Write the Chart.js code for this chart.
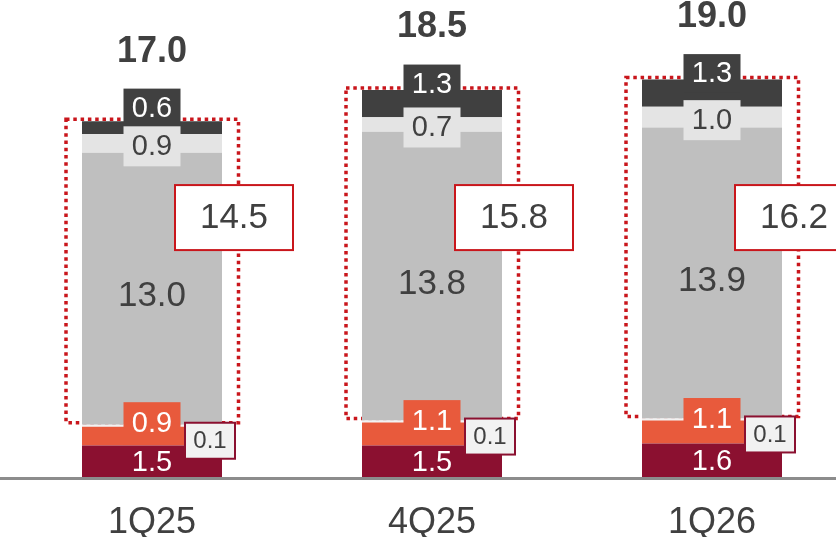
<!DOCTYPE html>
<html>
<head>
<meta charset="utf-8">
<script src="https://cdn.jsdelivr.net/npm/chart.js@4/dist/chart.umd.min.js"></script>
<style>
  html, body { margin: 0; padding: 0; background: #ffffff; overflow: hidden; width: 836px; height: 537px; }
  #wrap { position: relative; width: 860px; height: 537px; }
</style>
</head>
<body>
<div id="wrap"><canvas id="chart" width="860" height="537"></canvas></div>
<script>
// Quarter categories
const quarters = ['1Q25', '4Q25', '1Q26'];

// Stack components, listed from the bottom of each bar upwards
const baseValues   = [1.5, 1.5, 1.6];   // deep red base
const accentValues = [0.9, 1.1, 1.1];   // orange
const minorValues  = [0.1, 0.1, 0.1];   // thin sliver with boxed label
const coreValues   = [13.0, 13.8, 13.9]; // main grey block
const lightValues  = [0.9, 0.7, 1.0];   // pale grey
const topValues    = [0.6, 1.3, 1.3];   // charcoal cap

const FONT = '"Liberation Sans", Arial, Helvetica, sans-serif';
const TEXT = '#404040';
const RED_LINE = '#C9161C';
const C_BASE = '#8B1030', C_ACCENT = '#E85A3C', C_MINOR = '#F2F2F2',
      C_CORE = '#BFBFBF', C_LIGHT = '#E4E4E4', C_TOP = '#404040';

const seriesList = [baseValues, accentValues, minorValues, coreValues, lightValues, topValues];
const colorList = [C_BASE, C_ACCENT, C_MINOR, C_CORE, C_LIGHT, C_TOP];

const fmt = v => (Math.round(v * 10) / 10).toFixed(1);

// Level (in data units) where the bracket totals sit
const CALLOUT_LEVEL = 12.4;

function box(ctx, cx, cy, w, h, fill, stroke, lw) {
  ctx.fillStyle = fill;
  ctx.fillRect(cx - w / 2, cy - h / 2, w, h);
  if (stroke) {
    ctx.strokeStyle = stroke;
    ctx.lineWidth = lw;
    ctx.strokeRect(cx - w / 2, cy - h / 2, w, h);
  }
}
function text(ctx, str, x, y, size, color, bold) {
  ctx.font = (bold ? 'bold ' : '') + size + 'px ' + FONT;
  ctx.fillStyle = color;
  ctx.textAlign = 'center';
  ctx.textBaseline = 'middle';
  ctx.fillText(str, x, y);
}

const overlay = {
  id: 'overlay',
  beforeDatasetsDraw(chart) {
    // dotted bracket around the three upper grey components
    const ctx = chart.ctx;
    ctx.save();
    ctx.strokeStyle = RED_LINE;
    ctx.lineWidth = 3.5;
    ctx.setLineDash([3.5, 3.8]);
    quarters.forEach((q, i) => {
      const lower = chart.getDatasetMeta(3).data[i];
      const upper = chart.getDatasetMeta(5).data[i];
      const left = lower.x - lower.width / 2 - 16;
      const right = lower.x + lower.width / 2 + 16.5;
      const top = upper.y - 2;
      const bottom = lower.base - 2;
      ctx.strokeRect(left, top, right - left, bottom - top);
    });
    ctx.restore();
  },
  afterDatasetsDraw(chart) {
    const ctx = chart.ctx;
    const ys = chart.scales.y;
    ctx.save();

    // baseline across the full width
    const zero = ys.getPixelForValue(0);
    ctx.fillStyle = '#8C8C8C';
    ctx.fillRect(0, zero, chart.width, 3);

    quarters.forEach((q, i) => {
      const m = k => chart.getDatasetMeta(k).data[i];
      const mid = el => (el.y + el.base) / 2;
      const x = m(0).x;
      const halfW = m(0).width / 2;

      // charcoal cap label
      const topEl = m(5);
      const topLabelY = mid(topEl) - 20;
      box(ctx, x, topLabelY, 57, 38, C_TOP);
      text(ctx, fmt(topValues[i]), x, topLabelY + 1, 29, '#ffffff');

      // pale grey label
      const lightEl = m(4);
      const lightY = mid(lightEl) + 3;
      box(ctx, x, lightY, 57, 40, C_LIGHT);
      text(ctx, fmt(lightValues[i]), x, lightY + 1, 29, TEXT);

      // main grey label
      text(ctx, fmt(coreValues[i]), x, mid(m(3)) + 8, 35, TEXT);

      // orange label
      const accY = mid(m(1)) - 13;
      box(ctx, x, accY, 57, 42, C_ACCENT);
      text(ctx, fmt(accentValues[i]), x, accY + 1, 29, '#ffffff');

      // base label
      text(ctx, fmt(baseValues[i]), x, mid(m(0)) + 2, 29, '#ffffff');

      // boxed sliver label
      const minY = mid(m(2)) + 15;
      const minX = x + halfW - 37 + 25;
      box(ctx, minX, minY, 50, 36, C_MINOR, C_BASE, 2);
      text(ctx, fmt(minorValues[i]), minX, minY + 1, 24, TEXT);

      // bar total
      const total = seriesList.reduce((s, arr) => s + arr[i], 0);
      text(ctx, fmt(total), x, topLabelY - 56, 36, TEXT, true);

      // bracket total
      const bracket = coreValues[i] + lightValues[i] + topValues[i];
      const cy = ys.getPixelForValue(CALLOUT_LEVEL);
      const cx = x + halfW - 47 + 59;
      box(ctx, cx, cy, 118, 65, '#ffffff', RED_LINE, 2);
      text(ctx, fmt(bracket), cx, cy + 1, 35, TEXT);
    });
    ctx.restore();
  }
};

new Chart(document.getElementById('chart'), {
  type: 'bar',
  data: {
    labels: quarters,
    datasets: seriesList.map((arr, k) => ({
      data: arr,
      backgroundColor: colorList[k],
      borderWidth: 0,
      barPercentage: 0.5,
      categoryPercentage: 1.0
    }))
  },
  options: {
    responsive: false,
    animation: false,
    devicePixelRatio: 1,
    layout: { padding: { left: 12, right: 8, top: 0, bottom: 0 } },
    plugins: { legend: { display: false }, tooltip: { enabled: false } },
    scales: {
      x: {
        stacked: true,
        grid: { display: false },
        border: { display: false },
        ticks: { font: { family: FONT, size: 36 }, color: TEXT, padding: 16 },
        afterFit(scale) { scale.height = 60; }
      },
      y: {
        stacked: true,
        display: false,
        min: 0,
        max: 22.8
      }
    }
  },
  plugins: [overlay]
});
</script>
</body>
</html>
